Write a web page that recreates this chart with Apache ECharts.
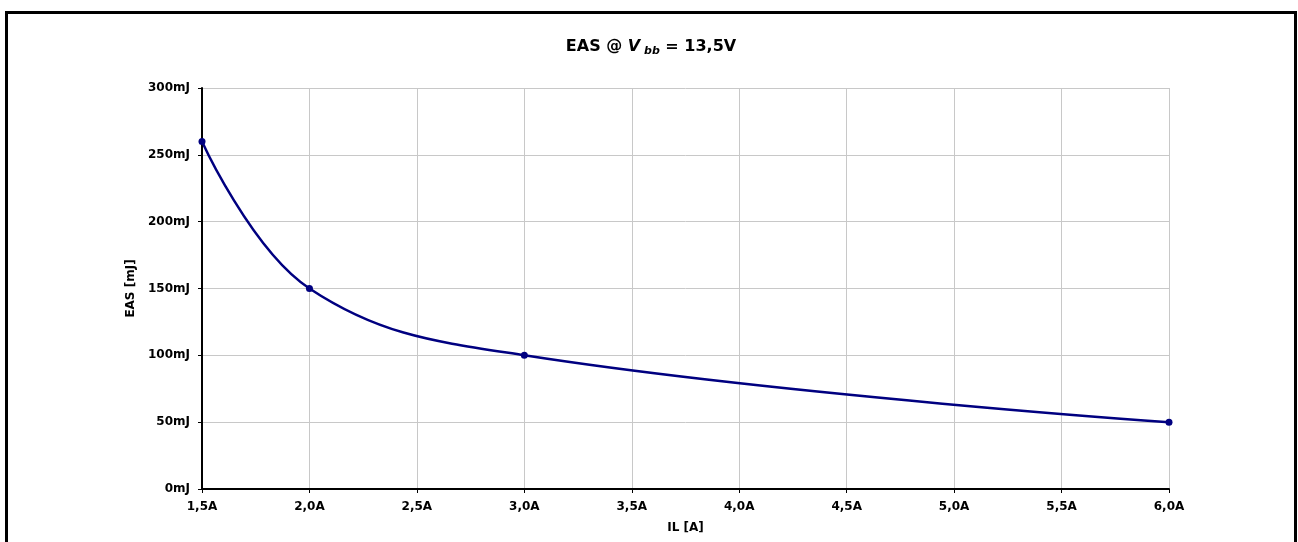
<!DOCTYPE html>
<html><head><meta charset="utf-8">
<script src="https://cdn.jsdelivr.net/npm/echarts@6/dist/echarts.min.js"></script>
<style>
html,body{margin:0;padding:0;background:#fff;overflow:hidden}
#frame{position:absolute;left:5px;top:11px;width:1286px;height:600px;border:3px solid #000;border-bottom:none;box-sizing:content-box}
#c{position:absolute;left:0;top:0;width:1298px;height:542px}
</style></head>
<body>
<div id="frame"></div>
<div id="c"></div>
<script>
const currents = [1.5, 2.0, 3.0, 6.0];
const energies = [260, 150, 100, 50];
const xTicks = [1.5, 2.0, 2.5, 3.0, 3.5, 4.0, 4.5, 5.0, 5.5, 6.0];
const yTicks = [0, 50, 100, 150, 200, 250, 300];

const chart = echarts.init(document.getElementById('c'));
const font = 'DejaVu Sans, Verdana, sans-serif';
chart.setOption({
  animation: false,
  title: {
    text: '{a|EAS @ }{v|V}{s| bb}{a| = 13,5V}',
    left: 646, top: 32, textAlign: 'center',
    textStyle: {
      rich: {
        a: {fontFamily: font, fontWeight: 'bold', fontSize: 16, color: '#000'},
        v: {fontFamily: font, fontWeight: 'bold', fontStyle: 'italic', fontSize: 16, color: '#000'},
        s: {fontFamily: font, fontWeight: 'bold', fontStyle: 'italic', fontSize: 11, color: '#000', padding: [9, 0, 0, 0]}
      }
    }
  },
  grid: {left: 202, right: 129, top: 88, bottom: 53},
  xAxis: {
    type: 'value', min: 1.5, max: 6.0, interval: 0.5,
    name: 'IL [A]', nameLocation: 'middle', nameGap: 33,
    nameTextStyle: {fontFamily: font, fontSize: 12, fontWeight: 'bold', color: '#000'},
    axisLine: {lineStyle: {color: '#000', width: 2}},
    axisTick: {show: true, length: 4, lineStyle: {color: '#000', width: 1}},
    axisLabel: {fontFamily: font, fontSize: 12, fontWeight: 'bold', color: '#000', margin: 12,
      formatter: v => v.toFixed(1).replace('.', ',') + 'A'},
    splitLine: {show: true, lineStyle: {color: '#c8c8c8', width: 1}}
  },
  yAxis: {
    type: 'value', min: 0, max: 300, interval: 50,
    name: 'EAS [mJ]', nameLocation: 'middle', nameGap: 65, nameRotate: 90,
    nameTextStyle: {fontFamily: font, fontSize: 12, fontWeight: 'bold', color: '#000'},
    axisLine: {show: true, lineStyle: {color: '#000', width: 2}},
    axisTick: {show: true, length: 4, lineStyle: {color: '#000', width: 1}},
    axisLabel: {fontFamily: font, fontSize: 12, fontWeight: 'bold', color: '#000', margin: 12,
      formatter: v => v + 'mJ'},
    splitLine: {show: true, lineStyle: {color: '#c8c8c8', width: 1}}
  },
  series: [{
    type: 'line',
    data: currents.map((x, i) => [x, energies[i]]),
    smooth: 0.4,
    symbol: 'circle', symbolSize: 7,
    itemStyle: {color: '#000080'},
    lineStyle: {color: '#000080', width: 2.5}
  }]
});
</script>
</body></html>
